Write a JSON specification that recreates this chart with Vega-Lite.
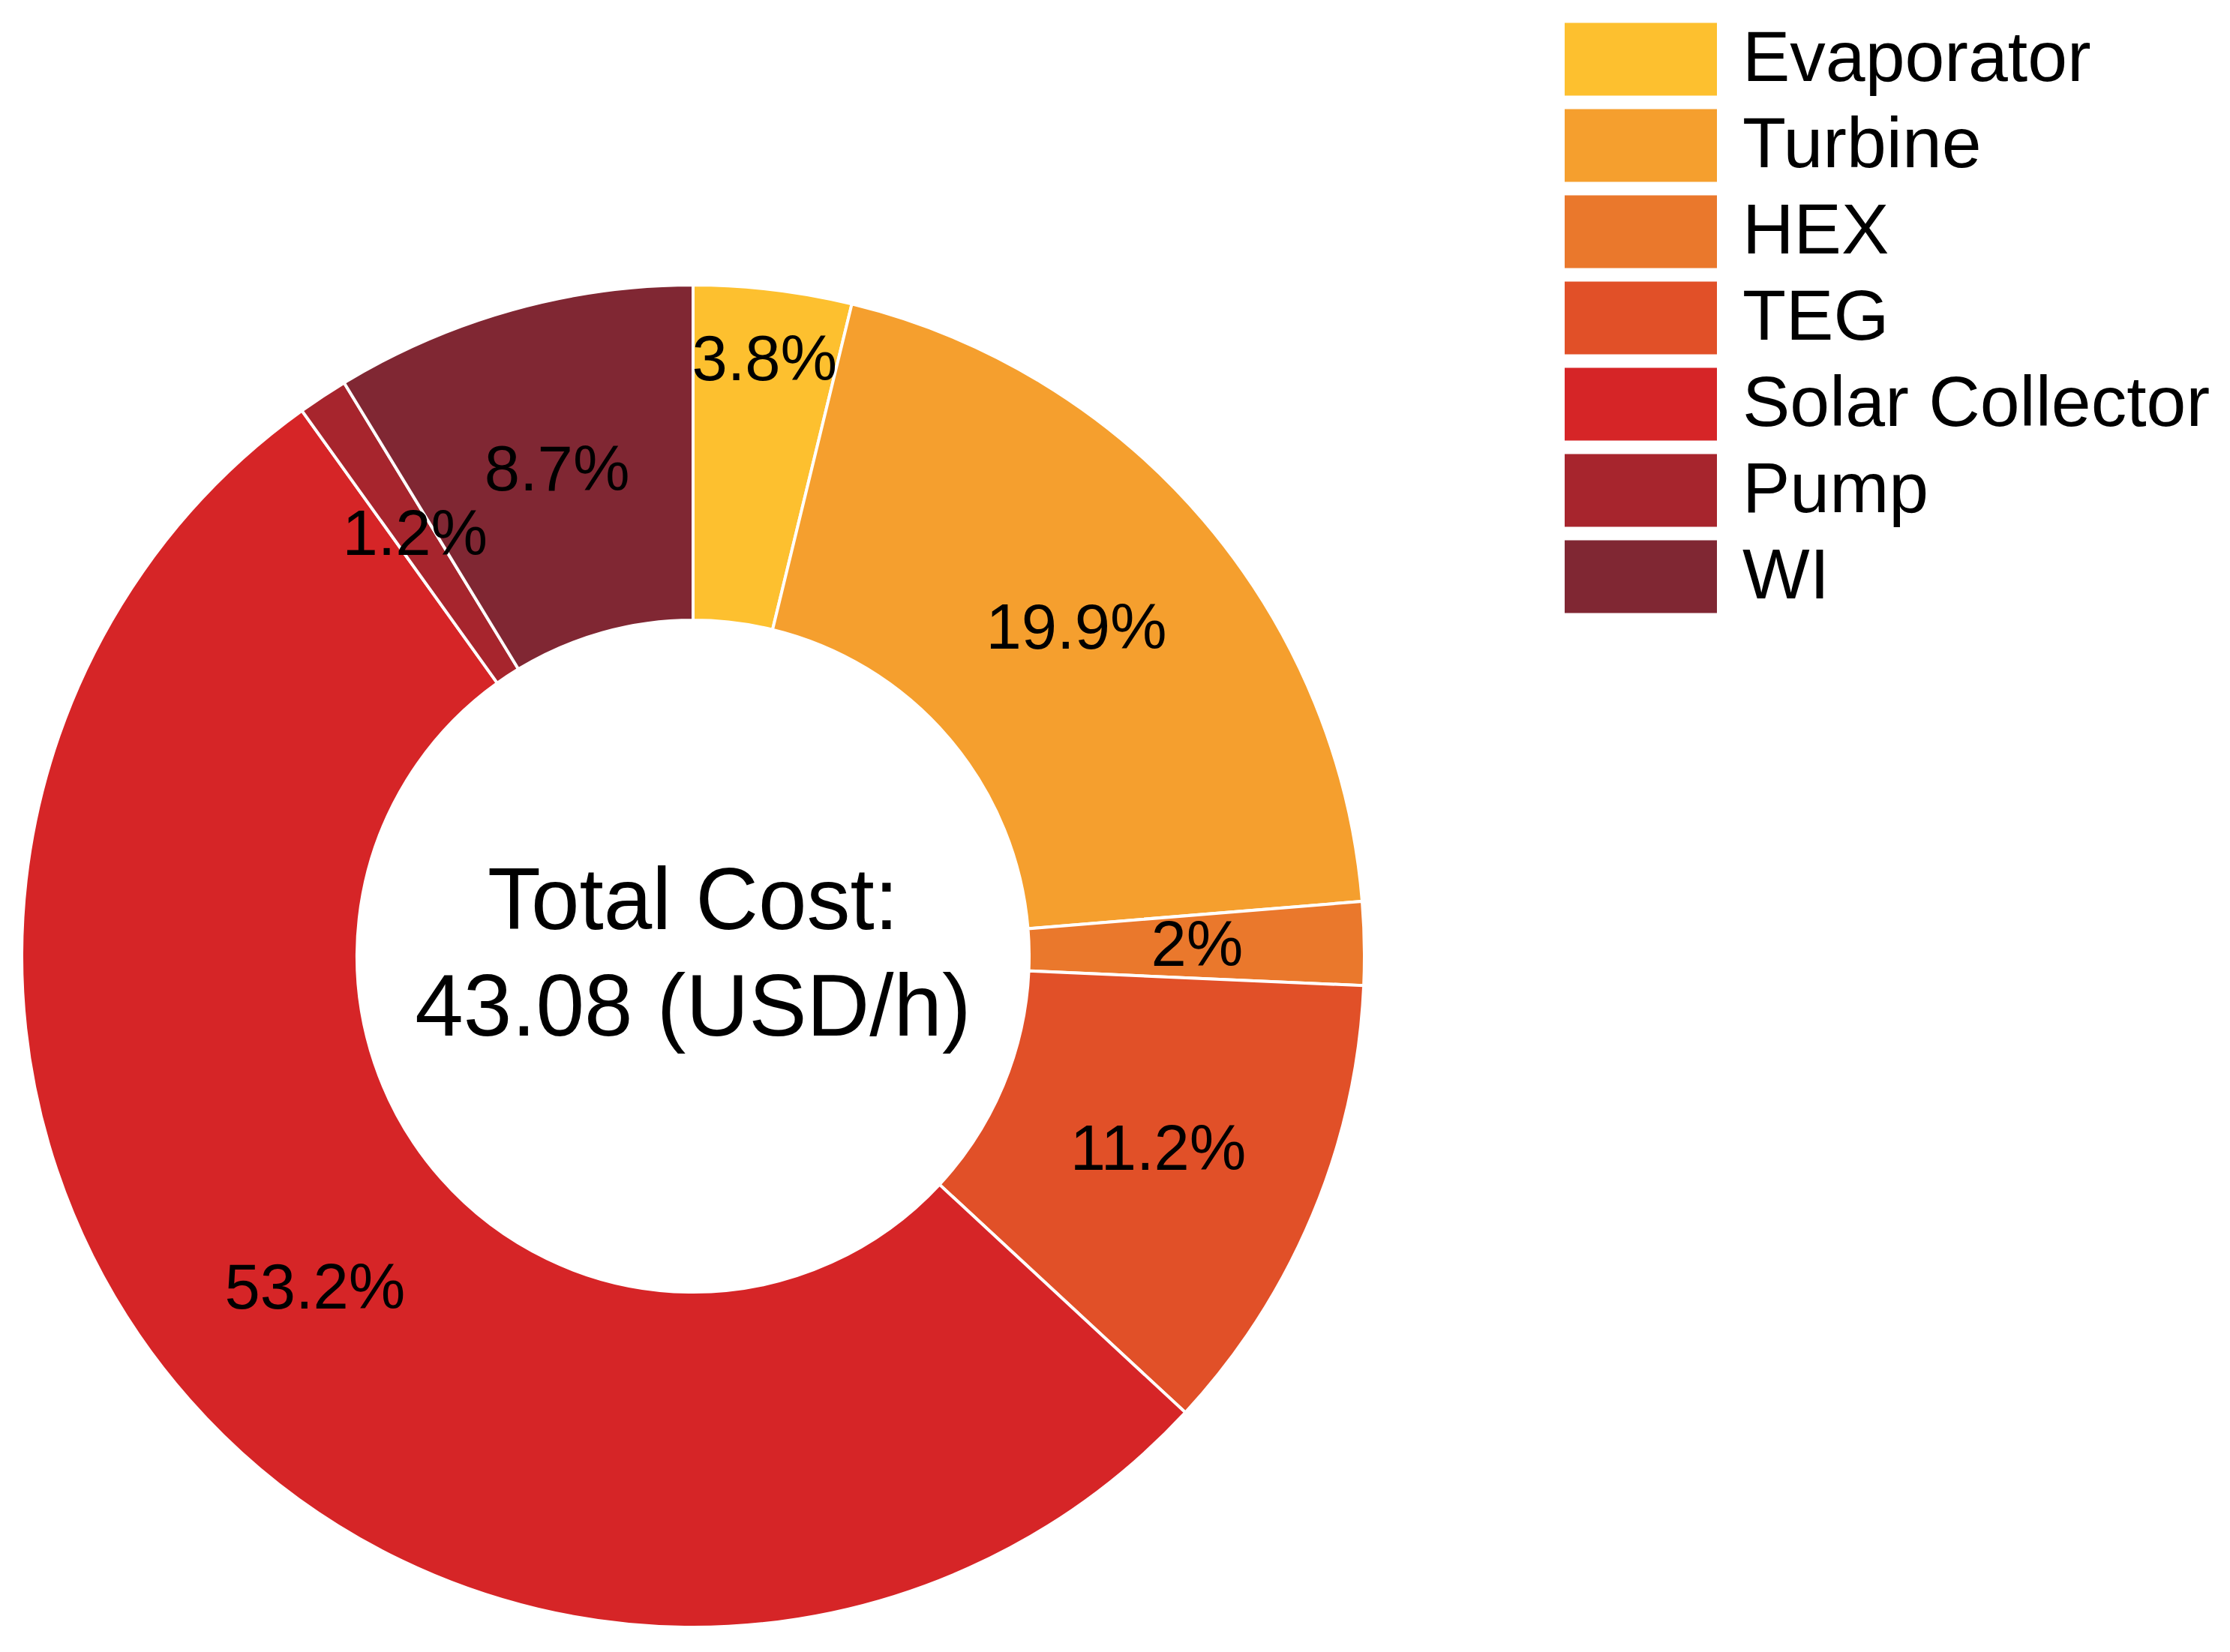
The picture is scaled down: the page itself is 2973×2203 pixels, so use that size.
{
  "$schema": "https://vega.github.io/schema/vega-lite/v6.json",
  "width": 1790,
  "height": 1790,
  "autosize": {"type": "none"},
  "padding": {"left": 29, "top": 380, "right": 1154, "bottom": 33},
  "background": "white",
  "config": {
    "view": {"stroke": null},
    "font": "Liberation Sans",
    "text": {"font": "Liberation Sans", "color": "black"}
  },
  "layer": [
    {
      "data": {"name": "costs", "values": [
        {"component": "Evaporator", "rank": 1, "share": 3.8, "label": "3.8%"},
        {"component": "Turbine", "rank": 2, "share": 19.9, "label": "19.9%"},
        {"component": "HEX", "rank": 3, "share": 2.0, "label": "2%"},
        {"component": "TEG", "rank": 4, "share": 11.2, "label": "11.2%"},
        {"component": "Solar Collector", "rank": 5, "share": 53.2, "label": "53.2%"},
        {"component": "Pump", "rank": 6, "share": 1.2, "label": "1.2%"},
        {"component": "WI", "rank": 7, "share": 8.7, "label": "8.7%"}
      ]},
      "layer": [
        {
          "mark": {"type": "arc", "innerRadius": 448, "outerRadius": 895, "stroke": "white", "strokeWidth": 4},
          "encoding": {
            "theta": {"field": "share", "type": "quantitative", "stack": true},
            "order": {"field": "rank", "type": "quantitative"},
            "color": {
              "field": "component",
              "type": "nominal",
              "scale": {
                "domain": ["Evaporator", "Turbine", "HEX", "TEG", "Solar Collector", "Pump", "WI"],
                "range": ["#FDC02F", "#F59F2E", "#EA782C", "#E15028", "#D62527", "#A7252D", "#802733"]
              },
              "legend": {
                "orient": "none",
                "legendX": 2057,
                "legendY": -351,
                "title": null,
                "symbolType": "M-1,-0.97H3.06V0.97H-1Z",
                "symbolSize": 10000,
                "symbolStrokeWidth": 0,
                "symbolOpacity": 1,
                "labelFont": "Liberation Sans",
                "labelFontSize": 95,
                "labelColor": "black",
                "labelOffset": 137,
                "labelLimit": 1000,
                "rowPadding": 16,
                "padding": 0
              }
            }
          }
        },
        {
          "mark": {"type": "text", "radius": 672, "fontSize": 85},
          "encoding": {
            "theta": {"field": "share", "type": "quantitative", "stack": true},
            "order": {"field": "rank", "type": "quantitative"},
            "detail": {"field": "component", "type": "nominal"},
            "text": {"condition": {"test": "datum.component !== 'Evaporator'", "field": "label"}, "value": ""}
          }
        },
        {
          "mark": {"type": "text", "radius": 800, "fontSize": 85},
          "encoding": {
            "theta": {"field": "share", "type": "quantitative", "stack": true},
            "order": {"field": "rank", "type": "quantitative"},
            "detail": {"field": "component", "type": "nominal"},
            "text": {"condition": {"test": "datum.component === 'Evaporator'", "field": "label"}, "value": ""}
          }
        }
      ]
    },
    {
      "data": {"values": [{"caption": "Total Cost:\n43.08 (USD/h)"}]},
      "mark": {"type": "text", "fontSize": 116, "lineHeight": 142, "lineBreak": "\n", "baseline": "middle", "align": "center", "dy": -71},
      "encoding": {"text": {"field": "caption", "type": "nominal"}}
    }
  ]
}
